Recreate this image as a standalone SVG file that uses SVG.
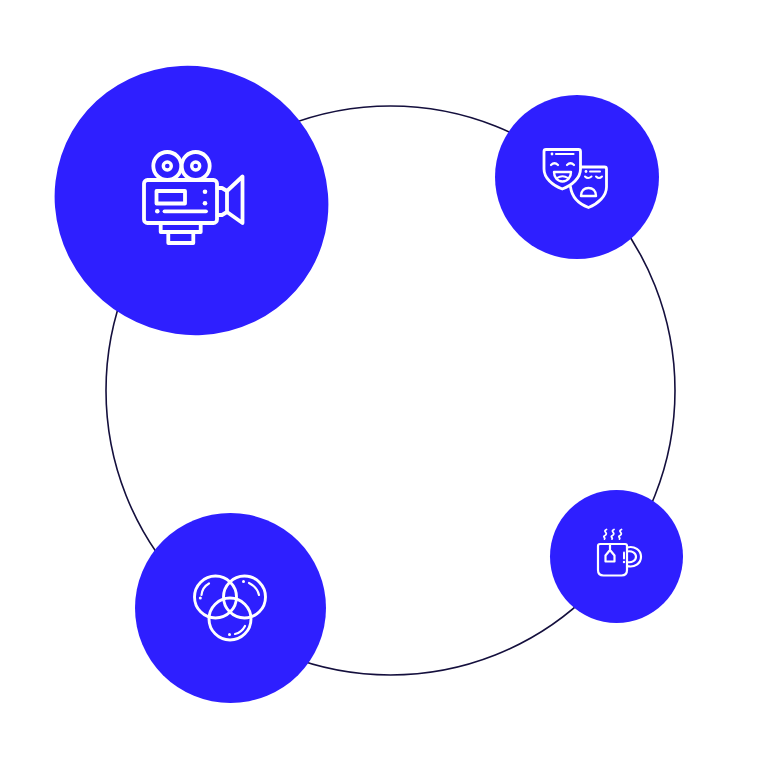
<svg xmlns="http://www.w3.org/2000/svg" width="780" height="780" viewBox="0 0 780 780">
<style>
.blob{fill:#2e1fff}
.ic{fill:none;stroke:#fff;stroke-linecap:round;stroke-linejoin:round}
.dot{fill:#fff}
</style>
<rect width="780" height="780" fill="#fff"/>
<g id="connectors"><circle cx="390.5" cy="390.5" r="284.5" fill="none" stroke="#140f3d" stroke-width="1.6"/></g>
<g id="node-camera">
<ellipse class="blob" cx="191.500" cy="200.500" rx="138" ry="133.500" transform="rotate(30 191.500 200.500)"/>
<g class="ic" stroke-width="3.800">
<circle cx="167.300" cy="166" r="14"/><circle cx="195.700" cy="166" r="14"/>
<circle cx="167.300" cy="166" r="4" stroke-width="3.400"/><circle cx="195.700" cy="166" r="4" stroke-width="3.400"/>
<rect x="144" y="180" width="73" height="43" rx="3.500"/>
<rect x="156.500" y="191" width="28.500" height="12.500"/>
<path d="M164.500 211.300H206"/>
<path d="M160.700 223v9h40v-9M168.300 232v11h25v-11"/>
<path d="M217.500 188H222L227 191V212L222 215H217.500M227 191L242.500 176.500V223L227 212"/>
</g>
<circle class="dot" cx="205" cy="191.700" r="2.300"/><circle class="dot" cx="205" cy="203.300" r="2.300"/><circle class="dot" cx="157.300" cy="211.300" r="2.300"/>
</g>
<g id="node-masks">
<circle class="blob" cx="577" cy="177" r="82"/>
<g class="ic" stroke-width="2.800">
<path d="M546 149.500H578.500Q580.500 149.500 580.500 151.500V169C580.500 178 572 185.500 562.300 189C552.500 185.500 544 178 544 169V151.500Q544 149.500 546 149.500Z"/>
<path d="M556 154H573.500" stroke-width="2.200"/>
<path d="M551 165Q554.500 161.500 558 165M567 165Q570.500 161.500 574 165" stroke-width="2.200"/>
<path d="M554 172H571C571 177.500 567.500 181.500 562.500 181.500C557.500 181.500 554 177.500 554 172Z" stroke-width="2.400"/>
<path d="M557 178Q562.500 174.500 568 178" stroke-width="2"/>
<path d="M581 167H604.500Q606.500 167 606.500 169V187C606.500 196 598 204 588.500 207.500C579 204 572 197.500 570.500 187"/>
<path d="M590 171.500H600" stroke-width="2"/>
<path d="M585 176.500Q588 179.500 591.500 176.500M596 176.500Q599 179.500 602 176.500" stroke-width="2"/>
<path d="M581 196C581 190.500 584.500 188 588.500 188C592.500 188 596 190.500 596 196Z" stroke-width="2.400"/>
</g>
<circle class="dot" cx="552" cy="154" r="1.400"/><circle class="dot" cx="586" cy="171.500" r="1.400"/>
</g>
<g id="node-mug">
<circle class="blob" cx="616.500" cy="556.500" r="66.500"/>
<g class="ic" stroke-width="2.200">
<path d="M600 544H625Q627 544 627 546V570Q627 575.500 621.500 575.500H603.500Q598 575.500 598 570V546Q598 544 600 544Z"/>
<path d="M627 547.500C634.500 545.500 641 550 641 556.800C641 563.500 634.500 568 627 566"/>
<path d="M627 551.500C632 550.500 636 553 636 556.800C636 560.500 632 563 627 562"/>
<path d="M610 544V550M610 550L614.500 555.500V561.500H605.500V555.500Z"/>
<path d="M624 552.500V558.500" stroke-width="2"/>
<path d="M606.500 529.500C602 531.500 609 533 605 535.500C602 537 606 537.500 604.500 539M614 529.500C609.500 531.500 616.500 533 612.500 535.500C609.500 537 613.500 537.500 612 539M621.500 529.500C617 531.500 624 533 620 535.500C617 537 621 537.500 619.500 539" stroke-width="1.800"/>
</g>
<circle class="dot" cx="624" cy="562" r="1.200"/>
</g>
<g id="node-venn">
<ellipse class="blob" cx="230.500" cy="608" rx="95.500" ry="95"/>
<g class="ic" stroke-width="2.900">
<circle cx="215.500" cy="597" r="21"/><circle cx="244.500" cy="597" r="21"/><circle cx="230" cy="619" r="21"/>
<path d="M201.500 595C202 590 204.500 586 209 583.500" stroke-width="2.200"/>
<path d="M249 583C254 585.500 258 590 259 595" stroke-width="2.200"/>
<path d="M235 634C239.500 633 243 630 245 626" stroke-width="2.200"/>
</g>
<circle class="dot" cx="200.300" cy="598" r="1.500"/><circle class="dot" cx="243.500" cy="581.500" r="1.500"/><circle class="dot" cx="229.500" cy="634.500" r="1.500"/>
</g>
</svg>
